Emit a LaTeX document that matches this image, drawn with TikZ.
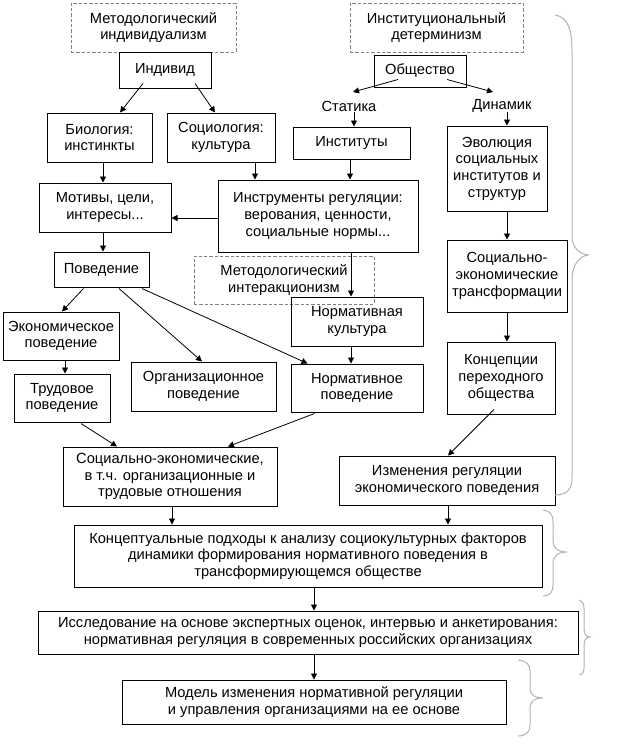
\documentclass[tikz,border=0pt]{standalone}
\usepackage{fontspec}
\setmainfont{Liberation Sans}
\usetikzlibrary{arrows.meta,calc}
\tikzset{
  txt/.style={font=\fontsize{11}{12.5}\selectfont, align=center},
  box/.style={txt, draw, line width=0.75pt, inner sep=0pt},
  dbox/.style={box, draw=black!50, dash pattern=on 2.5pt off 1.5pt},
  sz/.style 2 args={minimum width=#1*0.75pt, minimum height=#2*0.75pt},
  arr/.style={-{Triangle[length=4.5pt,width=4.5pt]}, line width=0.6pt},
  brc/.style={draw=black!30, line width=0.75pt},
  lbl/.style={txt, inner sep=0pt}
}
\begin{document}
\begin{tikzpicture}[x=0.75pt,y=-0.75pt]
\useasboundingbox (0,0) rectangle (617,750);
% left column
\node[dbox, sz={165}{49}] (mi) at (153.5,27.5) {Методологический\\индивидуализм};
\node[box, sz={92}{36}] (indiv) at (165,70) {Индивид};
\node[box, sz={105}{49}] (bio) at (99.5,137.5) {Биология:\\инстинкты};
\node[box, sz={108}{49}] (soc) at (221,137.5) {Социология:\\культура};
\node[box, sz={132}{49}] (mot) at (105,207.5) {Мотивы, цели,\\интересы...};
\node[box, sz={200}{72}] (instr) at (318,216) {Инструменты регуляции:\\верования, ценности,\\социальные нормы...};
\node[box, sz={95}{35}] (pov) at (101.5,269.5) {Поведение};
\node[dbox, sz={180}{48}] (inter) at (284,280) {Методологический\\интеракционизм};
\node[box, sz={132}{49}] (normk) at (357,321.5) {Нормативная\\культура};
\node[box, sz={132}{48}] (normp) at (357,388) {Нормативное\\поведение};
\node[box, sz={116}{48}] (econ) at (61,336) {Экономическое\\поведение};
\node[box, sz={96}{48}] (trud) at (62,398) {Трудовое\\поведение};
\node[box, sz={145}{49}] (org) at (203.5,386.5) {Организационное\\поведение};
\node[box, sz={214}{59}] (se) at (170,476.5) {Социально-экономические,\\в т.ч. организационные и\\трудовые отношения};
% right column
\node[dbox, sz={173}{49}] (idet) at (436.5,27.5) {Институциональный\\детерминизм};
\node[box, sz={92}{32}] (obsh) at (420,71) {Общество};
\node[lbl] (stat) at (349,106) {Статика};
\node[lbl] (din) at (502,106) {Динамик};
\node[box, sz={117}{32}] (inst) at (351.5,143) {Институты};
\node[box, sz={100}{85}] (evol) at (497,168.5) {Эволюция\\социальных\\институтов и\\структур};
\node[box, sz={120}{72}] (setr) at (507,276) {Социально-\\экономические\\трансформации};
\node[box, sz={108}{72}] (konc) at (501,378) {Концепции\\переходного\\общества};
\node[box, sz={216}{49}] (izm) at (447,480.5) {Изменения регуляции\\экономического поведения};
% bottom
\node[box, sz={468}{62}] (kon) at (308,556) {Концептуальные подходы к анализу социокультурных факторов\\динамики формирования нормативного поведения в\\трансформирующемся обществе};
\node[box, sz={540}{43}] (iss) at (308,632.5) {Исследование на основе экспертных оценок, интервью и анкетирования:\\нормативная регуляция в современных российских организациях};
\node[box, sz={384}{44}] (mod) at (314,702) {Модель изменения нормативной регуляции\\и управления организациями на ее основе};
% arrows
\draw[arr] ($(indiv.south)+(-22,-5)$) -- ($(bio.north)+(20.5,0)$);
\draw[arr] ($(indiv.south)+(30,-5)$) -- ($(soc.north)+(-6,0)$);
\draw[arr] ($(bio.south)+(3.5,0)$) -- ($(mot.north)+(-2,0)$);
\draw[arr] ($(soc.south)+(34,0)$) -- ($(instr.north)+(-63,0)$);
\draw[arr] ($(instr.west)+(0,2)$) -- ($(mot.east)+(0,10.5)$);
\draw[arr] ($(mot.south)+(-2,0)$) -- ($(pov.north)+(1.5,0)$);
\draw[arr] ($(obsh.south)+(-22,-8)$) -- ($(stat.center)+(4,-14)$);
\draw[arr] ($(obsh.south)+(27,-8)$) -- ($(din.center)+(-9,-14)$);
\draw[arr] ($(stat.center)+(5,6)$) -- ($(inst.north)+(2.5,0)$);
\draw[arr] ($(din.center)+(5,6)$) -- ($(evol.north)+(10,0)$);
\draw[arr] ($(inst.south)+(-1.5,0)$) -- ($(instr.north)+(32,0)$);
\draw[arr] ($(evol.south)+(10,0)$) -- (setr.north);
\draw[arr] (setr.south) -- ($(konc.north)+(6,0)$);
\draw[arr] ($(konc.south)+(-7,-5)$) -- ($(izm.north)+(1,0)$);
\draw[arr] ($(instr.south)+(33,0)$) -- ($(normk.north)+(-6,0)$);
\draw[arr] ($(normk.south)+(-6,0)$) -- ($(normp.north)+(-6,0)$);
\draw[arr] ($(pov.south)+(-18,1)$) -- ($(econ.north)+(1,0)$);
\draw[arr] ($(pov.south)+(17.5,1)$) -- ($(org.north)+(-1.5,0)$);
\draw[arr] ($(pov.south)+(40.5,1)$) -- ($(normp.north west)+(17,0)$);
\draw[arr] ($(econ.south)+(4,0)$) -- ($(trud.north)+(3,0)$);
\draw[arr] ($(trud.south)+(19,1)$) -- ($(se.north)+(-53,0)$);
\draw[arr] ($(normp.south west)+(24,1)$) -- ($(se.north)+(58,0)$);
\draw[arr] ($(se.south)+(2,0)$) -- ($(kon.north)+(-136,0)$);
\draw[arr] ($(izm.south)+(1,0)$) -- ($(kon.north)+(140,0)$);
\draw[arr] ($(kon.south)+(6,0)$) -- ($(iss.north)+(6,0)$);
\draw[arr] ($(iss.south)+(6,0)$) -- (mod.north);
% braces
\draw[brc] (555,15) .. controls (568,17) and (572,30) .. (572,50) -- (572,236)
  .. controls (572,248) and (580,254) .. (588,255)
  .. controls (580,256) and (572,264) .. (572,280) -- (572,478)
  .. controls (572,490) and (566,495) .. (555,495);
\draw[brc] (543,510) .. controls (550,511) and (553,514) .. (553,522) -- (553,541)
  .. controls (553,548) and (558,552) .. (567,552)
  .. controls (558,552) and (553,556) .. (553,564) -- (553,585)
  .. controls (553,592) and (550,596) .. (543,596);
\draw[brc] (579,600) .. controls (582,601) and (584,603) .. (584,608) -- (584,628)
  .. controls (584,634) and (586,637) .. (590,637)
  .. controls (586,637) and (584,640) .. (584,646) -- (584,668)
  .. controls (584,673) and (582,675) .. (579,675);
\draw[brc] (518,660) .. controls (526,661) and (530,664) .. (530,671) -- (530,688)
  .. controls (530,695) and (535,698) .. (543,698)
  .. controls (535,698) and (530,701) .. (530,708) -- (530,725)
  .. controls (530,732) and (526,736) .. (518,736);
\end{tikzpicture}
\end{document}
